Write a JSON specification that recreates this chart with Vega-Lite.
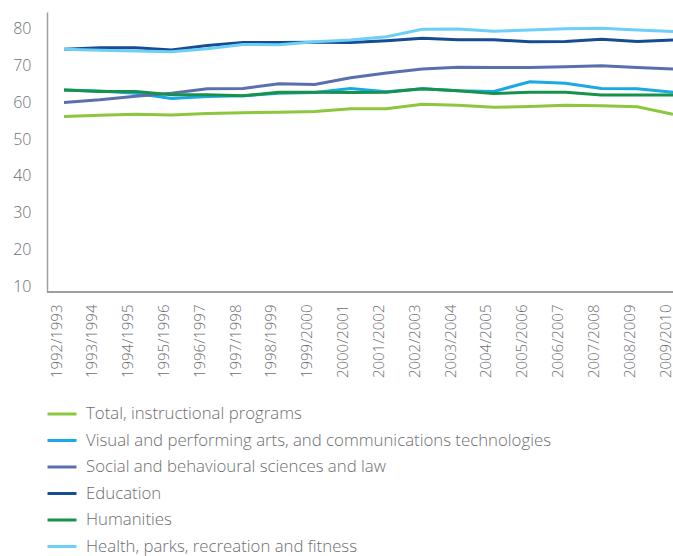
{
  "$schema": "https://vega.github.io/schema/vega-lite/v6.json",
  "autosize": "none",
  "width": 626,
  "height": 280,
  "padding": {"left": 47, "top": 12, "right": 0, "bottom": 264},
  "background": "white",
  "config": {
    "view": {"stroke": null},
    "font": "Open Sans",
    "axis": {"labelFont": "Open Sans", "labelFontWeight": 300, "labelColor": "#6d6e71", "domainColor": "#9d9fa2", "domainWidth": 1.5, "ticks": false, "grid": false, "title": null, "labelOverlap": false},
    "legend": {"labelFont": "Open Sans", "labelFontWeight": 300}
  },
  "data": {
    "values": [
      {"year": "1992/1993", "Total, instructional programs": 56.2, "Visual and performing arts, and communications technologies": 63.4, "Social and behavioural sciences and law": 60.0, "Education": 74.5, "Humanities": 63.4, "Health, parks, recreation and fitness": 74.5},
      {"year": "1993/1994", "Total, instructional programs": 56.5, "Visual and performing arts, and communications technologies": 63.1, "Social and behavioural sciences and law": 60.7, "Education": 74.9, "Humanities": 63.0, "Health, parks, recreation and fitness": 74.2},
      {"year": "1994/1995", "Total, instructional programs": 56.8, "Visual and performing arts, and communications technologies": 62.5, "Social and behavioural sciences and law": 61.7, "Education": 74.9, "Humanities": 63.0, "Health, parks, recreation and fitness": 74.0},
      {"year": "1995/1996", "Total, instructional programs": 56.6, "Visual and performing arts, and communications technologies": 61.1, "Social and behavioural sciences and law": 62.5, "Education": 74.3, "Humanities": 62.1, "Health, parks, recreation and fitness": 73.8},
      {"year": "1996/1997", "Total, instructional programs": 57.0, "Visual and performing arts, and communications technologies": 61.6, "Social and behavioural sciences and law": 63.7, "Education": 75.5, "Humanities": 62.1, "Health, parks, recreation and fitness": 74.6},
      {"year": "1997/1998", "Total, instructional programs": 57.2, "Visual and performing arts, and communications technologies": 61.8, "Social and behavioural sciences and law": 63.8, "Education": 76.3, "Humanities": 61.8, "Health, parks, recreation and fitness": 75.8},
      {"year": "1998/1999", "Total, instructional programs": 57.3, "Visual and performing arts, and communications technologies": 62.5, "Social and behavioural sciences and law": 65.1, "Education": 76.3, "Humanities": 62.8, "Health, parks, recreation and fitness": 75.7},
      {"year": "1999/2000", "Total, instructional programs": 57.5, "Visual and performing arts, and communications technologies": 62.7, "Social and behavioural sciences and law": 64.9, "Education": 76.4, "Humanities": 62.8, "Health, parks, recreation and fitness": 76.5},
      {"year": "2000/2001", "Total, instructional programs": 58.3, "Visual and performing arts, and communications technologies": 63.8, "Social and behavioural sciences and law": 66.7, "Education": 76.3, "Humanities": 62.7, "Health, parks, recreation and fitness": 77.0},
      {"year": "2001/2002", "Total, instructional programs": 58.3, "Visual and performing arts, and communications technologies": 62.9, "Social and behavioural sciences and law": 68.0, "Education": 76.8, "Humanities": 62.8, "Health, parks, recreation and fitness": 77.9},
      {"year": "2002/2003", "Total, instructional programs": 59.5, "Visual and performing arts, and communications technologies": 63.7, "Social and behavioural sciences and law": 69.1, "Education": 77.5, "Humanities": 63.7, "Health, parks, recreation and fitness": 79.9},
      {"year": "2003/2004", "Total, instructional programs": 59.2, "Visual and performing arts, and communications technologies": 63.2, "Social and behavioural sciences and law": 69.6, "Education": 77.1, "Humanities": 63.2, "Health, parks, recreation and fitness": 80.0},
      {"year": "2004/2005", "Total, instructional programs": 58.7, "Visual and performing arts, and communications technologies": 63.0, "Social and behavioural sciences and law": 69.5, "Education": 77.1, "Humanities": 62.4, "Health, parks, recreation and fitness": 79.4},
      {"year": "2005/2006", "Total, instructional programs": 58.9, "Visual and performing arts, and communications technologies": 65.6, "Social and behavioural sciences and law": 69.5, "Education": 76.5, "Humanities": 62.8, "Health, parks, recreation and fitness": 79.7},
      {"year": "2006/2007", "Total, instructional programs": 59.2, "Visual and performing arts, and communications technologies": 65.2, "Social and behavioural sciences and law": 69.7, "Education": 76.6, "Humanities": 62.8, "Health, parks, recreation and fitness": 80.1},
      {"year": "2007/2008", "Total, instructional programs": 59.1, "Visual and performing arts, and communications technologies": 63.8, "Social and behavioural sciences and law": 70.0, "Education": 77.2, "Humanities": 62.0, "Health, parks, recreation and fitness": 80.2},
      {"year": "2008/2009", "Total, instructional programs": 58.8, "Visual and performing arts, and communications technologies": 63.7, "Social and behavioural sciences and law": 69.5, "Education": 76.6, "Humanities": 62.0, "Health, parks, recreation and fitness": 79.7},
      {"year": "2009/2010", "Total, instructional programs": 56.8, "Visual and performing arts, and communications technologies": 62.8, "Social and behavioural sciences and law": 69.1, "Education": 77.0, "Humanities": 62.0, "Health, parks, recreation and fitness": 79.3}
    ]
  },
  "layer": [
    {
      "transform": [
        {"fold": ["Total, instructional programs", "Visual and performing arts, and communications technologies", "Social and behavioural sciences and law", "Education", "Humanities", "Health, parks, recreation and fitness"], "as": ["series", "value"]}
      ],
      "mark": {"type": "line", "strokeWidth": 3, "clip": false},
      "encoding": {
        "x": {
          "field": "year", "type": "ordinal",
          "scale": {"type": "point", "range": [17, 626], "padding": 0},
          "axis": {"labelAngle": -90, "labelFontSize": 15, "labelPadding": 12, "labelOffset": -8, "domain": false, "labelOverlap": false}
        },
        "y": {
          "field": "value", "type": "quantitative",
          "scale": {"domain": [8.37, 84.63], "nice": false, "zero": false},
          "axis": {"values": [10, 20, 30, 40, 50, 60, 70, 80], "labelFontSize": 16, "labelPadding": 16, "labelOverlap": false}
        },
        "color": {
          "field": "series", "type": "nominal",
          "scale": {
            "domain": ["Total, instructional programs", "Visual and performing arts, and communications technologies", "Social and behavioural sciences and law", "Education", "Humanities", "Health, parks, recreation and fitness"],
            "range": ["#8dc63f", "#1ba9e3", "#5a6fae", "#154c93", "#18924a", "#6dcff6"]
          },
          "legend": {
            "orient": "none", "legendX": -1, "legendY": 386, "title": null,
            "symbolType": "stroke", "symbolSize": 841, "symbolStrokeWidth": 3,
            "labelFontSize": 16.8, "labelColor": "#6d6e71", "labelOffset": 8, "rowPadding": 1.5,
            "labelLimit": 700
          }
        }
      }
    },
    {
      "mark": {"type": "rule", "color": "#9d9fa2", "strokeWidth": 1.5},
      "encoding": {"y": {"datum": 8.37, "type": "quantitative", "axis": {"values": [10, 20, 30, 40, 50, 60, 70, 80], "labelFontSize": 16, "labelPadding": 16, "labelOverlap": false}}}
    }
  ]
}
